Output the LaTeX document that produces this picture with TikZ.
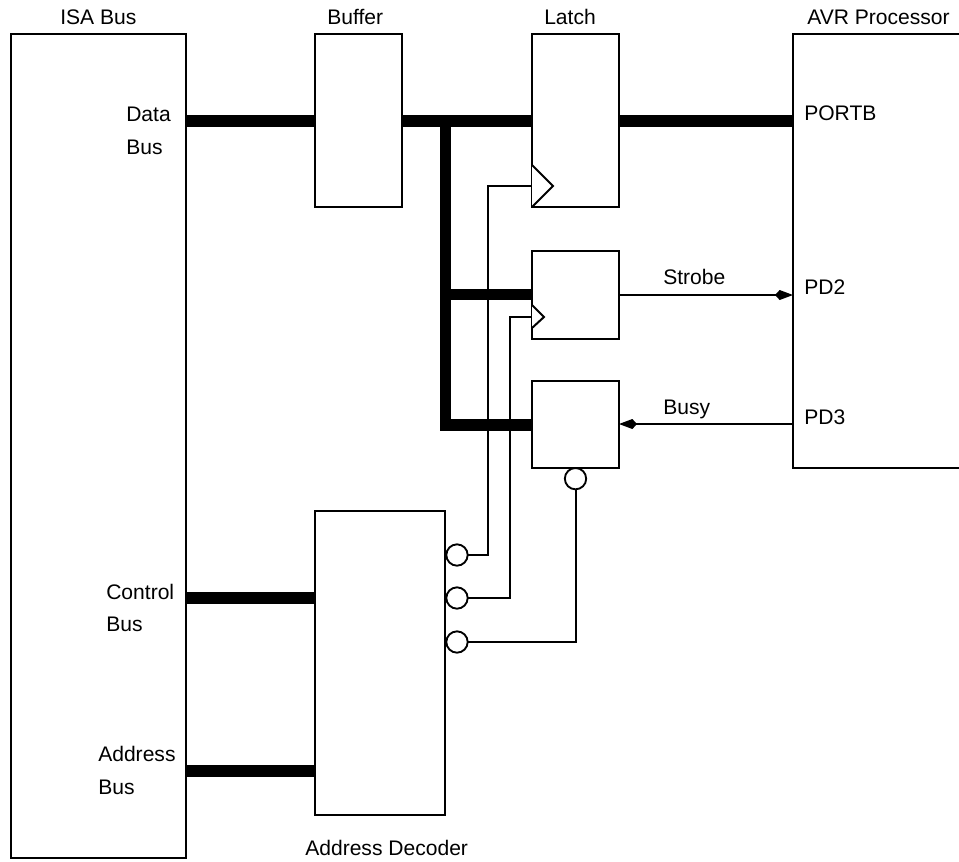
\documentclass[tikz,border=0pt]{standalone}
\usepackage{fontspec}
\setmainfont{Liberation Sans}
\usetikzlibrary{arrows.meta,positioning}
\tikzset{
  blockbox/.style={rectangle,draw=black,line width=1.4pt,fill=white,inner sep=0pt,outer sep=0pt},
  pinbubble/.style={circle,draw=black,line width=1.4pt,fill=white,minimum size=16pt,inner sep=0pt,outer sep=0pt},
  sigline/.style={line width=1.5pt,draw=black},
  sigarrow/.style={-{Kite[length=13.5pt,width=7.5pt,inset=3.5pt]},line width=1.5pt,draw=black},
  busline/.style={line width=8.8pt,draw=black},
  clocktip/.style={line width=1.5pt,draw=black,fill=white,line join=miter},
  tag/.style={inner sep=0pt,anchor=west,text height=11.5pt,text depth=0pt,font=\fontsize{15.8}{18}\selectfont,text=black}
}
\begin{document}
\begin{tikzpicture}[x=0.75pt,y=-0.75pt]
\useasboundingbox (0,0) rectangle (959,861);
% y levels of the wires
\coordinate (datay) at (0,121);
\coordinate (ctrly) at (0,598);
\coordinate (addry) at (0,771);
\coordinate (tapa) at (445.5,121);
\coordinate (tapb) at (440,294.5);
\coordinate (tapc) at (445.5,425);
% boxes
\node[blockbox,minimum width=131.25pt,minimum height=618pt,anchor=north west] (isa) at (11,34) {};
\node[blockbox,minimum width=65.25pt,minimum height=129.75pt,right=96.75pt of isa.north east,anchor=north west] (buffer) {};
\node[blockbox,minimum width=65.25pt,minimum height=129.75pt,right=97.5pt of buffer.north east,anchor=north west] (latch) {};
\node[blockbox,minimum width=65.25pt,minimum height=66pt,below=33pt of latch.south,anchor=north] (strobeff) {};
\node[blockbox,minimum width=65.25pt,minimum height=65.25pt,below=31.5pt of strobeff.south,anchor=north] (busyff) {};
\node[blockbox,minimum width=130pt,minimum height=325.5pt,right=130.5pt of latch.north east,anchor=north west] (avr) {};
\node[blockbox,minimum width=97.5pt,minimum height=228pt,anchor=north west] (decoder) at (315,511) {};
% pins of the decoder and the lower box
\node[pinbubble] (pina) at (457,555) {};
\node[pinbubble] (pinb) at (457,598) {};
\node[pinbubble] (pinc) at (457,642) {};
\node[pinbubble,below=0pt of busyff.south] (pind) {};
% buses
\draw[busline] (isa.east |- datay) -- (buffer.west |- datay);
\draw[busline] (buffer.east |- datay) -- (latch.west |- datay);
\draw[busline] (latch.east |- datay) -- (avr.west |- datay);
\draw[busline] (tapa) -- (tapc) -- (busyff.west |- tapc);
\draw[busline] (tapb) -- (strobeff.west |- tapb);
\draw[busline] (isa.east |- ctrly) -- (decoder.west |- ctrly);
\draw[busline] (isa.east |- addry) -- (decoder.west |- addry);
% clock wires
\coordinate (clka) at (532,186);
\coordinate (clkb) at (532,317);
\draw[sigline] (pina.east) -- (488,555) -- (488,186) -- (clka);
\draw[sigline] (pinb.east) -- (510,598) -- (510,317) -- (clkb);
\draw[sigline] (pinc.east) -| (pind.south);
\draw[clocktip] (latch.west |- 0,165) -- (553,186) -- (latch.west |- 0,207);
\draw[clocktip] (strobeff.west |- 0,305) -- (544,317) -- (strobeff.west |- 0,328);
% handshake wires
\coordinate (stry) at (0,295);
\coordinate (bsyy) at (0,424);
\draw[sigarrow] (strobeff.east |- stry) -- (avr.west |- stry);
\draw[sigarrow] (avr.west |- bsyy) -- (busyff.east |- bsyy);
% labels
\node[tag] (isalabel) at (60,17) {ISA Bus};
\node[tag] (bufferlabel) at (327,17) {Buffer};
\node[tag] (latchlabel) at (544,17) {Latch};
\node[tag] (avrlabel) at (807,17) {AVR Processor};
\node[tag] (decoderlabel) at (305,848) {Address Decoder};
\node[tag] (datalabel) at (126,114) {Data};
\node[tag] (datalabelb) at (126,147) {Bus};
\node[tag] (ctrllabel) at (106,592) {Control};
\node[tag] (ctrllabelb) at (106,624) {Bus};
\node[tag] (addrlabel) at (98,754) {Address};
\node[tag] (addrlabelb) at (98,787) {Bus};
\node[tag] (portblabel) at (804,113) {PORTB};
\node[tag] (pdtwolabel) at (804,287) {PD2};
\node[tag] (pdthreelabel) at (804,417) {PD3};
\node[tag] (strobelabel) at (663,277) {Strobe};
\node[tag] (busylabel) at (663,407) {Busy};
\end{tikzpicture}
\end{document}
